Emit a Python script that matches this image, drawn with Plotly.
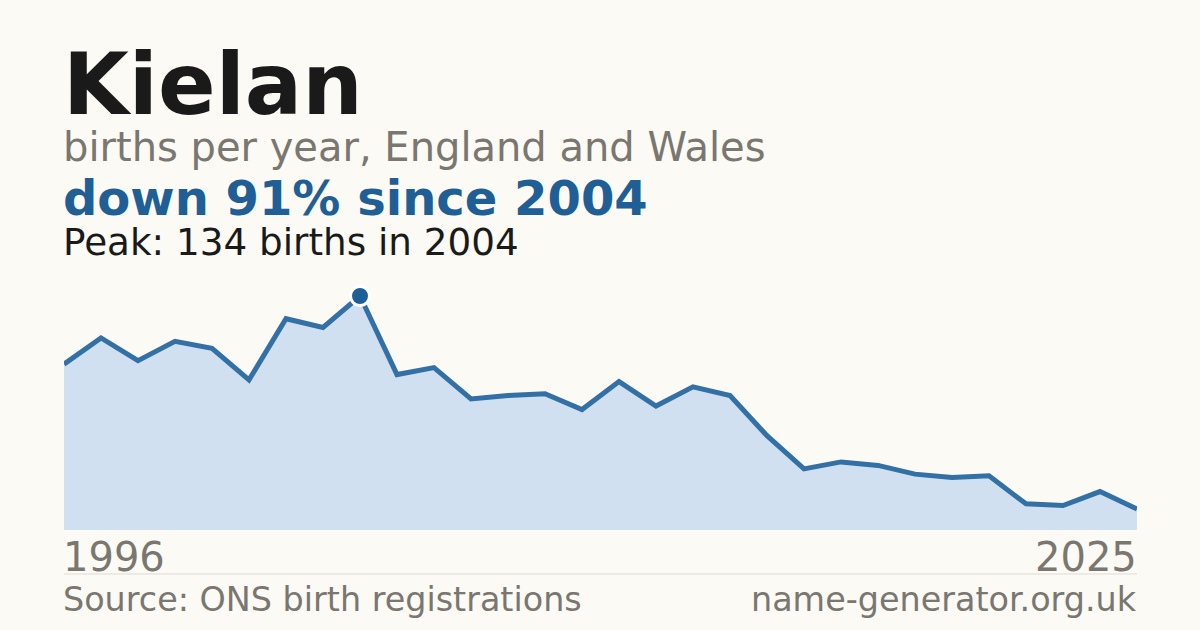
import plotly.graph_objects as go

# births per year for "Kielan", England and Wales
years = list(range(1996, 2026))
births = [95, 110, 97, 108, 104, 86, 121, 116, 134, 89,
          93, 75, 77, 78, 69, 85, 71, 82, 77, 54,
          35, 39, 37, 32, 30, 31, 15, 14, 22, 12]

peak_year = 2004
peak_births = 134

BG = "#fbfaf5"
BLUE = "#1f5f96"
GREY = "#7a7670"
INK = "#1a1a1a"

W, H = 1200, 630
ML, MR, MT, MB = 64, 63, 270, 100


def py(y_px):
    # pixel row -> paper y
    return (H - MB - y_px) / (H - MT - MB)


def px_(x_px):
    return (x_px - ML) / (W - ML - MR)


fig = go.Figure()

fig.add_trace(go.Scatter(
    x=years, y=births, mode="lines",
    line=dict(color="#3270a6", width=5),
    fill="tozeroy", fillcolor="#d0e0f0",
    hoverinfo="skip", showlegend=False,
))

fig.add_trace(go.Scatter(
    x=[peak_year], y=[peak_births], mode="markers",
    marker=dict(size=19, color=BLUE, line=dict(color="white", width=3)),
    hoverinfo="skip", showlegend=False, cliponaxis=False,
))

ann = [
    dict(text="<b>Kielan</b>", x=px_(64), y=py(84), size=85, color=INK),
    dict(text="births per year, England and Wales", x=px_(64), y=py(147), size=40, color=GREY),
    dict(text="<b>down 91% since 2004</b>", x=px_(64), y=py(198), size=48, color=BLUE),
    dict(text="Peak: 134 births in 2004", x=px_(64), y=py(242), size=37.3, color=INK),
    dict(text=str(years[0]), x=px_(64), y=py(557), size=40, color=GREY),
    dict(text="Source: ONS birth registrations", x=px_(64), y=py(599), size=33.4, color=GREY),
]
annotations = []
for a in ann:
    annotations.append(dict(
        text=a["text"], x=a["x"], y=a["y"], xref="paper", yref="paper",
        xanchor="left", yanchor="middle", showarrow=False, xshift=-3,
        font=dict(family="DejaVu Sans", size=a["size"], color=a["color"]),
    ))
for text, yy, size in [(str(years[-1]), 557, 40), ("name-generator.org.uk", 599, 33.4)]:
    annotations.append(dict(
        text=text, x=px_(1137), y=py(yy), xref="paper", yref="paper",
        xanchor="right", yanchor="middle", showarrow=False, xshift=2,
        font=dict(family="DejaVu Sans", size=size, color=GREY),
    ))

fig.update_layout(
    width=W, height=H,
    paper_bgcolor=BG, plot_bgcolor=BG,
    margin=dict(l=ML, r=MR, t=MT, b=MB),
    xaxis=dict(range=[years[0], years[-1]], visible=False, fixedrange=True),
    yaxis=dict(range=[0, peak_births * 260 / 234], visible=False, fixedrange=True),
    annotations=annotations,
    shapes=[dict(type="line", xref="paper", yref="paper",
                 x0=0, x1=1, y0=py(574), y1=py(574),
                 line=dict(color="#dedbd4", width=1))],
    font=dict(family="DejaVu Sans"),
)

fig.write_html("out.html", config={"displayModeBar": False},
               post_script="document.body.style.margin='0';")
